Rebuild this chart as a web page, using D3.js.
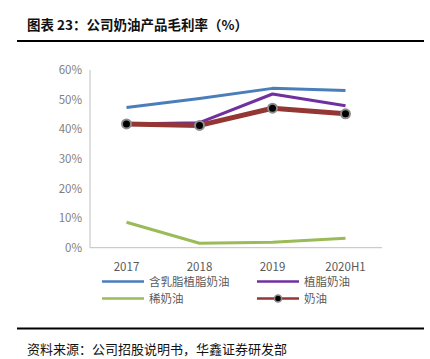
<!DOCTYPE html>
<html><head><meta charset="utf-8">
<script src="https://cdn.jsdelivr.net/npm/d3@7"></script>
<style>body{margin:0;background:#fff}svg{display:block}</style>
</head><body>
<svg id="c" width="430" height="359"></svg>
<script>
const categories = ["2017","2018","2019","2020H1"];
const seriesNames = ["含乳脂植脂奶油","植脂奶油","稀奶油","奶油"];
const blended = [47.3, 50.4, 53.8, 53.1];
const vegFat = [41.8, 42.2, 51.9, 47.9];
const cream = [8.6, 1.5, 1.8, 3.2];
const butter = [41.8, 41.3, 47.1, 45.2];
const yTicks = [0,10,20,30,40,50,60];

const svg = d3.select("#c");
const font = "'Noto Sans CJK SC', 'Noto Sans', sans-serif";

// title
svg.append("text").attr("x",27).attr("y",30).attr("font-family",font)
  .attr("font-size",13.5).attr("font-weight","bold").attr("fill","#111")
  .text("图表 23：公司奶油产品毛利率（%）");
svg.append("line").attr("x1",17).attr("x2",424).attr("y1",41).attr("y2",41)
  .attr("stroke","#000").attr("stroke-width",2);
svg.append("line").attr("x1",17).attr("x2",424).attr("y1",328.5).attr("y2",328.5)
  .attr("stroke","#000").attr("stroke-width",2);
svg.append("text").attr("x",27).attr("y",354).attr("font-family",font)
  .attr("font-size",13).attr("fill","#111")
  .text("资料来源：公司招股说明书，华鑫证券研发部");

const x = d3.scaleBand().domain(categories).range([90,382]);
const y = d3.scaleLinear().domain([0,60]).range([247.7,70]);

// y axis
const ya = svg.append("g").attr("transform","translate(90,0)")
  .call(d3.axisLeft(y).tickValues(yTicks).tickFormat(d=>d+"%").tickSize(0).tickPadding(8));
ya.select(".domain").attr("stroke","#bfbfbf").attr("d","M0,"+y(60)+"V"+y(0));
ya.selectAll(".tick text").attr("font-family",font).attr("font-size",11.5).attr("fill","#7f7f7f");

// x axis
const xa = svg.append("g").attr("transform","translate(0,"+y(0)+")")
  .call(d3.axisBottom(x).tickSize(0).tickPadding(15));
xa.select(".domain").attr("stroke","#bfbfbf").attr("d","M90,0H382");
xa.selectAll(".tick text").attr("font-family",font).attr("font-size",11.5).attr("fill","#595959");

const cx = c => x(c) + x.bandwidth()/2;
const line = d3.line().x((d,i)=>cx(categories[i])).y(d=>y(d));

const series = [
  {name:seriesNames[0], data:blended, color:"#4a7ebb", w:3},
  {name:seriesNames[1], data:vegFat, color:"#7030a0", w:3},
  {name:seriesNames[2], data:cream, color:"#9bbb59", w:3},
  {name:seriesNames[3], data:butter, color:"#943634", w:5, marker:true}
];
series.forEach(s=>{
  svg.append("path").attr("d",line(s.data)).attr("fill","none")
    .attr("stroke",s.color).attr("stroke-width",s.w).attr("stroke-linejoin","round");
});
const bs = series[3];
bs.data.forEach((d,i)=>{
  svg.append("circle").attr("cx",cx(categories[i])).attr("cy",y(d)).attr("r",4.5)
    .attr("fill","#000").attr("stroke","#8c8c8c").attr("stroke-width",2);
});

// legend
const leg = [
  {s:series[0], x:102, y:281.5},
  {s:series[1], x:257, y:281.5},
  {s:series[2], x:102, y:298.5},
  {s:series[3], x:257, y:298.5}
];
leg.forEach(l=>{
  svg.append("line").attr("x1",l.x).attr("x2",l.x+42).attr("y1",l.y).attr("y2",l.y)
    .attr("stroke",l.s.color).attr("stroke-width",2.5);
  if(l.s.marker){
    svg.append("circle").attr("cx",l.x+21).attr("cy",l.y).attr("r",3.5)
      .attr("fill","#000").attr("stroke","#8c8c8c").attr("stroke-width",1.5);
  }
  svg.append("text").attr("x",l.x+47).attr("y",l.y+4.2).attr("font-family",font)
    .attr("font-size",11.5).attr("fill","#595959").text(l.s.name);
});
</script>
</body></html>
